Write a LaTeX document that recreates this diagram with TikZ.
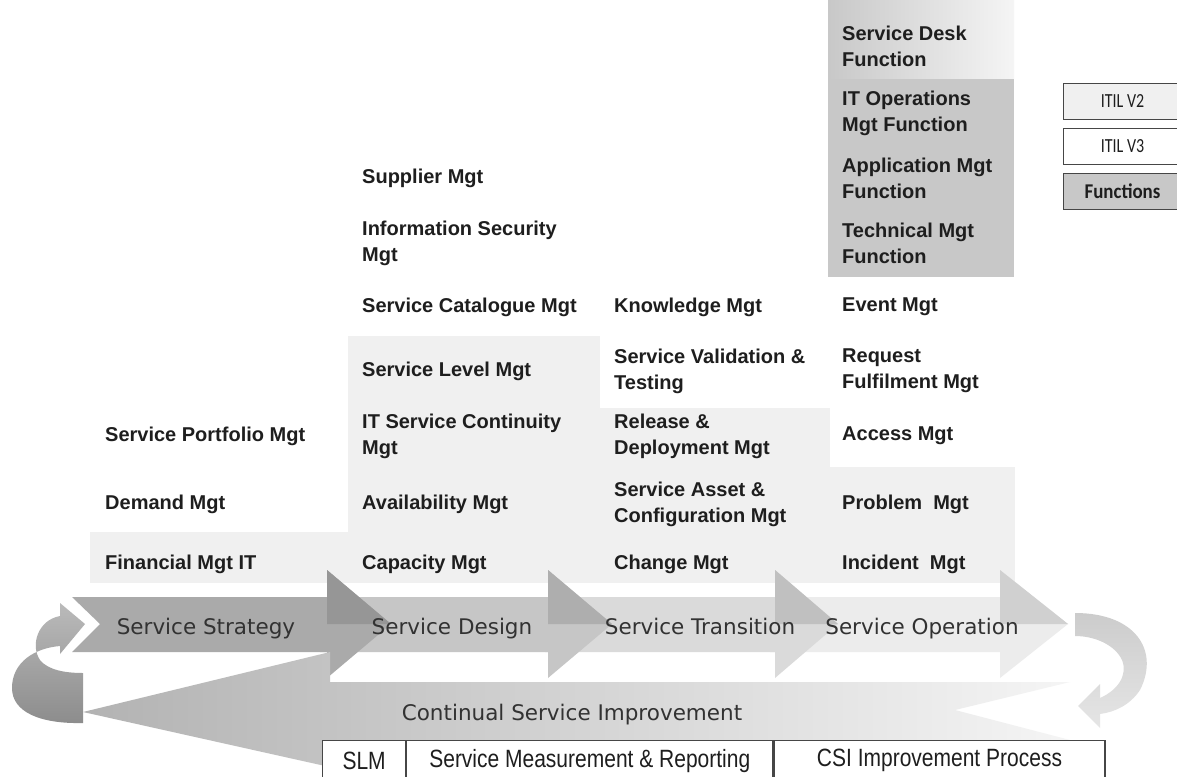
\documentclass[tikz,border=0pt]{standalone}
\usepackage{fontspec}
\setmainfont{Liberation Sans}
\newfontfamily\stagefont{DejaVu Sans}
\newfontfamily\legendfont[FakeStretch=0.8]{Carlito}
\newfontfamily\legendbold[FakeStretch=0.9]{Carlito}
\newfontfamily\narrowfont[FakeStretch=0.84]{Liberation Sans}
\usetikzlibrary{calc, positioning}
\definecolor{rowgray}{RGB}{240,240,240}
\definecolor{fngray}{RGB}{200,200,200}
\definecolor{txtgray}{RGB}{30,30,30}
\definecolor{stagetxt}{RGB}{50,50,50}
\definecolor{ssgray}{RGB}{170,170,170}
\definecolor{sdgray}{RGB}{198,198,198}
\definecolor{stgray}{RGB}{218,218,218}
\definecolor{sogray}{RGB}{236,236,236}
\definecolor{boxline}{RGB}{70,70,70}
\newcommand\procnode[4]{\node[proc] (#1) at (#2,#3) {#4};}
\newcommand\stagearrow[4]{\fill[#4] (#1,597) -- (#2,597) -- (#2,570) -- (#3,624) -- (#2,678) -- (#2,652) -- (#1,652) -- cycle;\fill[#4!88!black] (#2,570) -- (#3,624) -- (#2,624) -- cycle;}
\tikzset{
  proc/.style={anchor=west, align=left, inner sep=0pt, text=txtgray,
    font=\fontsize{20}{26}\selectfont\bfseries},
  stagelbl/.style={anchor=base, inner sep=0pt, text=stagetxt, font=\stagefont\fontsize{21.5}{26}\selectfont},
  legendbox/.style={draw=boxline, line width=1pt, anchor=west, minimum width=118, minimum height=36,
    inner sep=0pt, text=txtgray, font=\legendfont\fontsize{20}{24}\selectfont},
  csicell/.style={draw=boxline, line width=1.2pt, fill=white, minimum height=40, inner sep=0pt,
    text=txtgray, font=\narrowfont\fontsize{25}{28}\selectfont}
}
\begin{document}
\begin{tikzpicture}[x=1pt,y=-1pt]
\useasboundingbox (0,0) rectangle (1177,776);
\fill[white] (0,0) rectangle (1177,776);

% light grey steps behind the V2 processes
\fill[rowgray] (90,532) rectangle (348,583);
\fill[rowgray] (348,336) rectangle (600,583);
\fill[rowgray] (600,408) rectangle (830,583);
\fill[rowgray] (830,467) rectangle (1015,583);
% functions block
\fill[fngray] (828,0) rectangle (1014,277);
\shade[left color=fngray, right color=white!96!black] (828,0) rectangle (1014,78);

% lifecycle arrows, last one first
\stagearrow{770}{1000}{1068}{sogray}
\stagearrow{545}{775}{838}{stgray}
\stagearrow{320}{548}{612}{sdgray}
\fill[ssgray] (72,597) -- (327,597) -- (327,570) -- (391,624) -- (327,678) -- (327,652) -- (72,652) -- (100,624) -- cycle;
\fill[ssgray!88!black] (327,570) -- (391,624) -- (327,624) -- cycle;

% continual service improvement
\shade[left color=black!30, right color=black!4] (83,712) -- (330,652) -- (330,682) -- (1070,682) -- (955,710) -- (1070,740) -- (370,740) -- (370,776) -- cycle;
\shade[top color=black!27, bottom color=black!45] (83,673) -- (83,723) .. controls (40,724) and (12,712) .. (12,688)
  .. controls (12,662) and (35,648) .. (60,646) -- (60,654) -- (85,624) -- (60,603) -- (60,616)
  .. controls (38,620) and (30,645) .. (40,660) .. controls (48,670) and (65,673) .. (83,673) -- cycle;
\shade[top color=black!20, bottom color=black!10] (1075,613) .. controls (1135,613) and (1160,650) .. (1140,690)
  .. controls (1130,705) and (1115,712) .. (1100,714) -- (1100,728) -- (1078,706) -- (1100,684) -- (1100,698)
  .. controls (1118,690) and (1128,675) .. (1122,660) .. controls (1115,645) and (1095,636) .. (1075,636) -- cycle;

% stage labels
\node[stagelbl] (ss) at (206,634) {Service Strategy};
\node[stagelbl] (sd) at (452,634) {Service Design};
\node[stagelbl] (st) at (700,634) {Service Transition};
\node[stagelbl] (so) at (922,634) {Service Operation};
\node[stagelbl] (csi) at (572,720) {Continual Service Improvement};

% service strategy
\procnode{fin}{105}{564}{Financial Mgt IT}
\procnode{dem}{105}{504}{Demand Mgt}
\procnode{spm}{105}{436}{Service Portfolio Mgt}
% service design
\procnode{cap}{362}{564}{Capacity Mgt}
\procnode{avail}{362}{504}{Availability Mgt}
\procnode{itscm}{362}{436}{IT Service Continuity\\Mgt}
\procnode{slm}{362}{371}{Service Level Mgt}
\procnode{scm}{362}{307}{Service Catalogue Mgt}
\procnode{ism}{362}{243}{Information Security\\Mgt}
\procnode{sup}{362}{178}{Supplier Mgt}
% service transition
\procnode{chg}{614}{564}{Change Mgt}
\procnode{sacm}{614}{504}{Service Asset \&\\Configuration Mgt}
\procnode{rdm}{614}{436}{Release \&\\Deployment Mgt}
\procnode{svt}{614}{371}{Service Validation \&\\Testing}
\procnode{km}{614}{307}{Knowledge Mgt}
% service operation
\procnode{inc}{842}{564}{Incident~~Mgt}
\procnode{prb}{842}{504}{Problem~~Mgt}
\procnode{acc}{842}{436}{Access Mgt}
\procnode{rfm}{842}{371}{Request\\Fulfilment Mgt}
\procnode{evt}{842}{307}{Event Mgt}
\procnode{tmf}{842}{243}{Technical Mgt\\Function}
\procnode{amf}{842}{178}{Application Mgt\\Function}
\procnode{iomf}{842}{113}{IT Operations\\Mgt Function}
\procnode{sdf}{842}{46}{Service Desk\\Function}

% legend
\node[legendbox, fill=rowgray] (v2) at (1063,101) {ITIL V2};
\node[legendbox, fill=white, below=8pt of v2.south west, anchor=north west] (v3) {ITIL V3};
\node[legendbox, fill=fngray, below=8pt of v3.south west, anchor=north west, font=\legendbold\fontsize{21}{24}\selectfont\bfseries] (fn) {Functions};

% csi table
\node[csicell, minimum width=83, anchor=north west] (slmc) at (322,740) {SLM};
\node[csicell, minimum width=366, right=0pt of slmc] (smr) {Service Measurement \& Reporting};
\node[csicell, minimum width=331, right=0pt of smr] (cip) {CSI Improvement Process};
\end{tikzpicture}
\end{document}
